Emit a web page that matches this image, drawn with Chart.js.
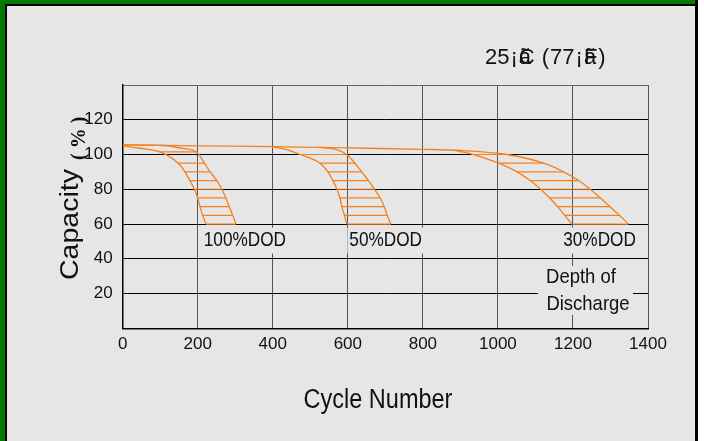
<!DOCTYPE html>
<html>
<head>
<meta charset="utf-8">
<script src="https://cdn.jsdelivr.net/npm/chart.js@4/dist/chart.umd.min.js"></script>
<style>
  html, body { margin: 0; padding: 0; background: #fff; }
  #wrap { width: 704px; height: 441px; }
</style>
</head>
<body>
<div id="wrap"><canvas id="cycleChart" width="704" height="441"></canvas></div>
<script>
// values (cycle number vs capacity %)
const xTicks = [0, 200, 400, 600, 800, 1000, 1200, 1400];
const yTicks = [20, 40, 60, 80, 100, 120];

// common line at the top, then bends into the 30% DOD outer edge
const topCycles = [0, 200, 400, 600, 800, 900];
const topCapacity = [105.6, 105, 104.5, 103.8, 103, 102.3];

// hatch levels (capacity %) of each band
const levels100 = [101.5, 95, 90, 85, 80, 75, 70, 65, 60];
const levels50 = [100, 95, 90, 85, 80, 75, 70, 65, 60];
const levels30 = [100, 95, 90, 85, 80, 75, 70, 65, 60];

// cycle at each level, inner (left) and outer (right) edge of the band
const inner100 = [99, 148, 166, 179, 191, 200, 206, 213, 222];
const outer100 = [197, 218, 233, 251, 264, 275, 284, 293, 302];
const inner50 = [473, 526, 547, 560, 571, 579, 584, 591, 597];
const outer50 = [597, 619, 637, 655, 671, 686, 697, 705, 715];
const inner30 = [935, 1002, 1051, 1086, 1114, 1138, 1159, 1178, 1197];
const outer30 = [1024, 1122, 1175, 1215, 1246, 1273, 1299, 1324, 1348];

// where each edge leaves the common line
const start100InnerX = [0, 45];
const start100InnerY = [105, 103.6];
const start100OuterX = [0, 110, 160];
const start100OuterY = [105.6, 105.2, 103.5];
const start50InnerX = [397, 435];
const start50InnerY = [104.5, 103];
const start50OuterX = [520, 570];
const start50OuterY = [104.2, 102.8];
const start30InnerX = [881];
const start30InnerY = [102.5];

const dodLabels = ['100%DOD', '50%DOD', '30%DOD'];

const ORANGE = '#f5801e';
const SANS = "'Liberation Sans', Arial, sans-serif";

function pts(xs, ys) {
    return xs.map((x, i) => ({ x: x, y: ys[i] }));
}

function curve(data) {
    return {
        data: data,
        showLine: true,
        borderColor: ORANGE,
        borderWidth: 1.3,
        pointRadius: 0,
        cubicInterpolationMode: 'monotone',
        fill: false
    };
}

const datasets = [];
// hatching
[[levels100, inner100, outer100], [levels50, inner50, outer50], [levels30, inner30, outer30]].forEach(b => {
    b[0].forEach((lv, i) => {
        datasets.push({
            data: [{ x: b[1][i], y: lv }, { x: b[2][i], y: lv }],
            showLine: true,
            borderColor: ORANGE,
            borderWidth: 1.2,
            pointRadius: 0
        });
    });
});
// band edges
datasets.push(curve(pts(start100InnerX, start100InnerY).concat(pts(inner100, levels100))));
datasets.push(curve(pts(start100OuterX, start100OuterY).concat(pts(outer100, levels100))));
datasets.push(curve(pts(start50InnerX, start50InnerY).concat(pts(inner50, levels50))));
datasets.push(curve(pts(start50OuterX, start50OuterY).concat(pts(outer50, levels50))));
datasets.push(curve(pts(start30InnerX, start30InnerY).concat(pts(inner30, levels30))));
datasets.push(curve(pts(topCycles, topCapacity).concat(pts(outer30, levels30))));

//frame behind the chart
const framePlugin = {
    id: 'frame',
    beforeDraw(chart) {
        const c = chart.ctx;
        c.save();
        c.fillStyle = '#ffffff';
        c.fillRect(0, 0, 704, 441);
        c.fillStyle = '#e6e6e6';
        c.fillRect(0, 0, 696, 441);
        c.fillStyle = '#007a00';
        c.fillRect(0, 0, 696, 4);
        c.fillRect(0, 0, 5, 441);
        c.fillStyle = '#000';
        c.fillRect(5, 4, 691, 2);
        c.fillRect(5, 4, 2, 437);
        c.fillRect(695, 0, 3, 441);
        c.restore();
    }
};

// condensed looking text: squeeze a normal font sideways
function narrowText(c, text, x, y, size, sx, align) {
    c.save();
    c.font = size + 'px ' + SANS;
    c.translate(x, y);
    c.scale(sx, 1);
    c.textAlign = align || 'left';
    c.textBaseline = 'middle';
    c.fillStyle = '#111';
    c.fillText(text, 0, 0);
    c.restore();
}

function boxText(c, text, x, y, size, sx) {
    c.font = size + 'px ' + SANS;
    const w = c.measureText(text).width * sx;
    c.fillStyle = '#e6e6e6';
    c.fillRect(x - 2, y - 13, w + 4, 26);
    narrowText(c, text, x, y, size, sx, 'left');
}

//texts drawn on top
const textPlugin = {
    id: 'texts',
    afterDraw(chart) {
        const c = chart.ctx;
        const xs = chart.scales.x, ys = chart.scales.y;
        c.save();

        // band labels
        const lblY = ys.getPixelForValue(50.5);
        boxText(c, dodLabels[0], xs.getPixelForValue(216), lblY, 21, 0.82);
        boxText(c, dodLabels[1], xs.getPixelForValue(604), lblY, 21, 0.82);
        boxText(c, dodLabels[2], xs.getPixelForValue(1174), lblY, 21, 0.82);

        // Depth of Discharge
        c.fillStyle = '#e6e6e6';
        c.fillRect(538, 266, 95, 49);
        narrowText(c, 'Depth of', 581, 277, 21, 0.88, 'center');
        narrowText(c, 'Discharge', 588, 304, 21, 0.88, 'center');

        // temperature (overlapping glyph pairs as in the original)
        c.fillStyle = '#111';
        c.textAlign = 'left';
        c.textBaseline = 'alphabetic';
        c.font = '22px ' + SANS;
        let x = 485;
        const parts = ['25', '¡', ['ã', 'C'], ' (', '77', '¡', ['ã', 'F'], ')'];
        parts.forEach(p => {
            if (Array.isArray(p)) {
                let w = 0;
                p.forEach(s => { c.fillText(s, x, 64); w = Math.max(w, c.measureText(s).width); });
                x += w + 1;
            } else {
                c.fillText(p, x, 64);
                x += c.measureText(p).width + 1;
            }
        });

        // axis titles
        narrowText(c, 'Cycle Number', 378, 401, 27, 0.87, 'center');

        c.fillStyle = '#111';
        c.translate(78, 225);
        c.rotate(-Math.PI / 2);
        c.textAlign = 'left';
        c.textBaseline = 'alphabetic';
        c.save();
        c.scale(1.14, 1);
        c.font = '25px ' + SANS;
        c.fillText('Capacity', -55 / 1.14, 0);
        c.restore();
        c.font = 'bold 20px "Liberation Serif", serif';
        c.letterSpacing = '5px';
        c.fillText('(%)', 65, 7);
        c.restore();
    }
};

const config = {
    type: 'scatter',
    data: { datasets: datasets },
    options: {
        responsive: false,
        animation: false,
        layout: { padding: { left: 0, right: 56, top: 85, bottom: 0 } },
        plugins: { legend: { display: false }, tooltip: { enabled: false } },
        scales: {
            x: {
                type: 'linear', min: 0, max: 1400,
                afterFit: s => { s.height = 112.7; },
                afterBuildTicks: s => { s.ticks = xTicks.map(v => ({ value: v })); },
                grid: { color: '#555', lineWidth: 1, drawTicks: false },
                border: { color: '#000', width: 1.5 },
                ticks: {
                    color: '#111', padding: 6, maxRotation: 0, font: { family: SANS, size: 17 },
                    callback: v => String(v)
                }
            },
            y: {
                type: 'linear', min: 0, max: 140,
                afterFit: s => { s.width = 122.7; },
                afterBuildTicks: s => { s.ticks = [0].concat(yTicks, [140]).map(v => ({ value: v })); },
                grid: { color: c => (c.tick && c.tick.value === 140 ? '#666' : '#000'), lineWidth: 1, drawTicks: false },
                border: { color: '#000', width: 1.5 },
                ticks: {
                    color: '#111', padding: 10, font: { family: SANS, size: 17 },
                    callback: v => (yTicks.includes(v) ? String(v) : '')
                }
            }
        }
    },
    plugins: [framePlugin, textPlugin]
};

const ctx = document.getElementById('cycleChart').getContext('2d');
const cycleChart = new Chart(ctx, config);
</script>
</body>
</html>
